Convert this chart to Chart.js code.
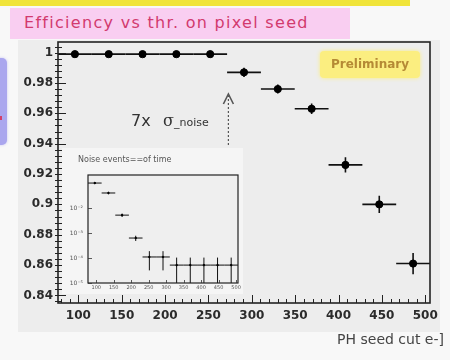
<!DOCTYPE html>
<html>
<head>
<meta charset="utf-8">
<script src="https://cdn.jsdelivr.net/npm/chart.js@4.4.0/dist/chart.umd.min.js"></script>
<style>
body { margin: 0; width: 450px; height: 360px; background: #f8f8f8; position: relative; overflow: hidden; font-family: 'DejaVu Sans', sans-serif; }
#strip { position: absolute; left: 0; top: 0; width: 410px; height: 6px; background: #f0e43a; }
#titlebox { position: absolute; left: 10px; top: 8px; width: 340px; height: 31px; background: #f9cef1; }
#titlebox span { position: absolute; left: 14px; top: 5px; color: #d23a6e; font-size: 16px; letter-spacing: 1.3px; white-space: nowrap; }
#side { position: absolute; left: -10px; top: 58px; width: 17px; height: 87px; background: #aaa6ee; border-radius: 5px; box-shadow: 0 0 3px #c8c6f4; }
#side i { position: absolute; left: 10px; top: 58px; width: 2px; height: 4px; background: #d0406a; }
#panel { position: absolute; left: 18px; top: 40px; width: 422px; height: 292px; background: #ededed; }
#main { position: absolute; left: 0; top: 0; }
#inset { position: absolute; left: 62px; top: 148px; background: #f5f5f5; }
#prelim { position: absolute; left: 320px; top: 51px; width: 100px; height: 27px; background: #fbee80; border-radius: 4px; box-shadow: 0 0 4px #fbee80; font: bold 12px 'DejaVu Sans', sans-serif; color: #b58a35; line-height: 27px; text-align: center; }
</style>
</head>
<body>
<div id="strip"></div>
<div id="titlebox"><span>Efficiency vs thr. on pixel seed</span></div>
<div id="side"><i></i></div>
<div id="panel"></div>
<canvas id="main" width="450" height="360"></canvas>
<div id="prelim">Preliminary</div>
<canvas id="inset" width="181" height="146"></canvas>
<script>
// thresholds (e-) and bin half width
var thr = [96, 135, 174, 213, 252, 291, 330, 369, 408, 447, 486];
var binHalf = 19.5;

// efficiency vs seed threshold
var eff = [0.999, 0.999, 0.999, 0.999, 0.999, 0.987, 0.976, 0.963, 0.926, 0.900, 0.861];
var effErr = [0.0005, 0.0005, 0.0005, 0.0005, 0.0005, 0.003, 0.003, 0.0035, 0.005, 0.0057, 0.007];

// inset: noise events
var noise = [0.1, 0.04, 0.0052, 0.00063, 0.00011, 0.00011, 0.000052, 0.000052, 0.000052, 0.000052, 0.000052];
var noiseErr = [0.008, 0.004, 0.0008, 0.00015, 0.000078, 0.000078, 0.000052, 0.000052, 0.000052, 0.000052, 0.000052];

var xTickLabels = [100, 150, 200, 250, 300, 350, 400, 450, 500];
var yTickLabels = ['0.84', '0.86', '0.88', '0.9', '0.92', '0.94', '0.96', '0.98', '1'];
var insetYTicks = [1e-5, 1e-4, 1e-3, 1e-2];
var arrowAt = 273;

function drawErrors(chart, xs, ys, yerr) {
    var ctx = chart.ctx, a = chart.chartArea, x = chart.scales.x, y = chart.scales.y;
    ctx.save();
    ctx.beginPath();
    ctx.rect(a.left, a.top, a.right - a.left, a.bottom - a.top);
    ctx.clip();
    ctx.strokeStyle = '#111';
    ctx.lineWidth = chart.canvas.id == 'main' ? 1.6 : 1;
    xs.forEach(function(v, i) {
        var px = x.getPixelForValue(v), py = y.getPixelForValue(ys[i]);
        var lo = ys[i] - yerr[i];
        ctx.beginPath();
        ctx.moveTo(x.getPixelForValue(v - binHalf), py);
        ctx.lineTo(x.getPixelForValue(v + binHalf), py);
        ctx.moveTo(px, lo > 0 ? y.getPixelForValue(lo) : a.bottom);
        ctx.lineTo(px, y.getPixelForValue(ys[i] + yerr[i]));
        ctx.stroke();
    });
    ctx.restore();
}

function drawFrame(chart, lw) {
    var ctx = chart.ctx, a = chart.chartArea;
    ctx.save();
    ctx.strokeStyle = '#222';
    ctx.lineWidth = lw;
    ctx.strokeRect(a.left, a.top, a.right - a.left, a.bottom - a.top);
    ctx.restore();
}

var mainPlugin = {
    id: 'mainPlugin',
    beforeDatasetsDraw: function(chart) {
        drawErrors(chart, thr, eff, effErr);
    },
    afterDraw: function(chart) {
        var ctx = chart.ctx, a = chart.chartArea, x = chart.scales.x, y = chart.scales.y;
        drawFrame(chart, 1.6);
        ctx.save();
        ctx.strokeStyle = '#222';
        ctx.lineWidth = 1;
        ctx.beginPath();
        // y ticks, major and minor
        for (var v = 0.836; v <= 1.0061; v += 0.004) {
            var py = Math.round(y.getPixelForValue(v)) + 0.5;
            var major = Math.abs(Math.round(v * 50) - v * 50) < 0.01;
            ctx.moveTo(a.left - 3, py);
            ctx.lineTo(a.left + (major ? 8 : 4), py);
        }
        // x ticks
        for (var t = 80; t <= 505; t += 10) {
            var px = Math.round(x.getPixelForValue(t)) + 0.5;
            var maj = t % 50 == 0;
            ctx.moveTo(px, a.bottom);
            ctx.lineTo(px, a.bottom - (maj ? 8 : 4));
        }
        ctx.stroke();

        // 7x sigma_noise annotation
        var ax = x.getPixelForValue(arrowAt);
        ctx.strokeStyle = '#555';
        ctx.lineWidth = 1.2;
        ctx.setLineDash([2, 2]);
        ctx.beginPath();
        ctx.moveTo(ax, 145);
        ctx.lineTo(ax, 96);
        ctx.stroke();
        ctx.setLineDash([]);
        ctx.lineWidth = 1.6;
        ctx.beginPath();
        ctx.moveTo(ax - 5, 104);
        ctx.lineTo(ax, 94);
        ctx.lineTo(ax + 5, 104);
        ctx.stroke();

        ctx.fillStyle = '#333';
        ctx.textBaseline = 'alphabetic';
        ctx.font = '16px "DejaVu Sans"';
        ctx.fillText('7x', 131, 126);
        ctx.font = '16px "DejaVu Serif"';
        ctx.fillText('σ', 163, 126);
        ctx.font = '11px "DejaVu Sans"';
        ctx.fillText('_noise', 174, 126);

        // x axis title
        ctx.font = '14px "DejaVu Sans"';
        ctx.fillStyle = '#444';
        ctx.textAlign = 'right';
        ctx.textBaseline = 'middle';
        ctx.fillText('PH seed cut e-]', 444, 340);
        ctx.restore();
    }
};

var insetPlugin = {
    id: 'insetPlugin',
    beforeDraw: function(chart) {
        var ctx = chart.ctx, a = chart.chartArea;
        ctx.save();
        ctx.fillStyle = '#efefef';
        ctx.fillRect(a.left, a.top, a.right - a.left, a.bottom - a.top);
        ctx.font = '8px "DejaVu Sans"';
        ctx.fillStyle = '#555';
        ctx.textBaseline = 'middle';
        ctx.fillText('Noise events==of time', 16, 12);
        ctx.restore();
    },
    beforeDatasetsDraw: function(chart) {
        drawErrors(chart, thr, noise, noiseErr);
    },
    afterDraw: function(chart) {
        var ctx = chart.ctx, a = chart.chartArea, x = chart.scales.x, y = chart.scales.y;
        drawFrame(chart, 1.2);
        ctx.save();
        ctx.strokeStyle = '#333';
        ctx.lineWidth = 0.8;
        ctx.beginPath();
        insetYTicks.forEach(function(v) {
            var py = Math.round(y.getPixelForValue(v)) + 0.5;
            ctx.moveTo(a.left, py);
            ctx.lineTo(a.left + 4, py);
        });
        xTickLabels.forEach(function(v) {
            var px = Math.round(x.getPixelForValue(v)) + 0.5;
            ctx.moveTo(px, a.bottom);
            ctx.lineTo(px, a.bottom - 3);
        });
        ctx.stroke();
        ctx.restore();
    }
};

var tickFont = { family: 'DejaVu Sans', size: 12, weight: 'bold' };

new Chart(document.getElementById('main'), {
    type: 'scatter',
    data: {
        datasets: [{
            data: thr.map(function(v, i) { return { x: v, y: eff[i] }; }),
            backgroundColor: '#000',
            borderColor: '#000',
            pointRadius: 3.6,
            pointHoverRadius: 3.6
        }]
    },
    options: {
        responsive: false,
        animation: false,
        layout: { padding: { top: 42, right: 20, left: 0, bottom: 0 } },
        plugins: { legend: { display: false }, tooltip: { enabled: false } },
        scales: {
            x: {
                type: 'linear',
                min: 76.5,
                max: 505.5,
                afterBuildTicks: function(s) { s.ticks = xTickLabels.map(function(v) { return { value: v }; }); },
                afterFit: function(s) { s.height = 57; },
                grid: { display: false, drawTicks: false },
                border: { display: false },
                ticks: { font: tickFont, color: '#2b2b2b', padding: 6, maxRotation: 0, autoSkip: false }
            },
            y: {
                type: 'linear',
                min: 0.835,
                max: 1.007,
                afterBuildTicks: function(s) { s.ticks = yTickLabels.map(function(v) { return { value: parseFloat(v) }; }); },
                afterFit: function(s) { s.width = 58; },
                grid: { display: false, drawTicks: false },
                border: { display: false },
                ticks: {
                    font: tickFont, color: '#2b2b2b', padding: 5, autoSkip: false,
                    callback: function(v) { return yTickLabels.find(function(l) { return Math.abs(parseFloat(l) - v) < 1e-6; }); }
                }
            }
        }
    },
    plugins: [mainPlugin]
});

var sup = { '-': '⁻', '1': '¹', '2': '²', '3': '³', '4': '⁴', '5': '⁵' };

new Chart(document.getElementById('inset'), {
    type: 'scatter',
    data: {
        datasets: [{
            data: thr.map(function(v, i) { return { x: v, y: noise[i] }; }),
            backgroundColor: '#000',
            borderColor: '#000',
            pointRadius: 0.8
        }]
    },
    options: {
        responsive: false,
        animation: false,
        layout: { padding: { top: 27, right: 3, left: 0, bottom: 0 } },
        plugins: { legend: { display: false }, tooltip: { enabled: false } },
        scales: {
            x: {
                type: 'linear',
                min: 76.5,
                max: 505.5,
                afterBuildTicks: function(s) { s.ticks = xTickLabels.map(function(v) { return { value: v }; }); },
                afterFit: function(s) { s.height = 11; },
                grid: { display: false, drawTicks: false },
                border: { display: false },
                ticks: { font: { family: 'DejaVu Sans', size: 5 }, color: '#555', padding: 2, maxRotation: 0, autoSkip: false }
            },
            y: {
                type: 'logarithmic',
                min: 1e-5,
                max: 0.21,
                afterBuildTicks: function(s) { s.ticks = insetYTicks.map(function(v) { return { value: v }; }); },
                afterFit: function(s) { s.width = 26; },
                grid: { display: false, drawTicks: false },
                border: { display: false },
                ticks: {
                    font: { family: 'DejaVu Sans', size: 6 }, color: '#555', padding: 5, autoSkip: false,
                    callback: function(v) {
                        var e = String(Math.round(Math.log10(v)));
                        return '10' + e.split('').map(function(c) { return sup[c]; }).join('');
                    }
                }
            }
        }
    },
    plugins: [insetPlugin]
});
</script>
</body>
</html>
